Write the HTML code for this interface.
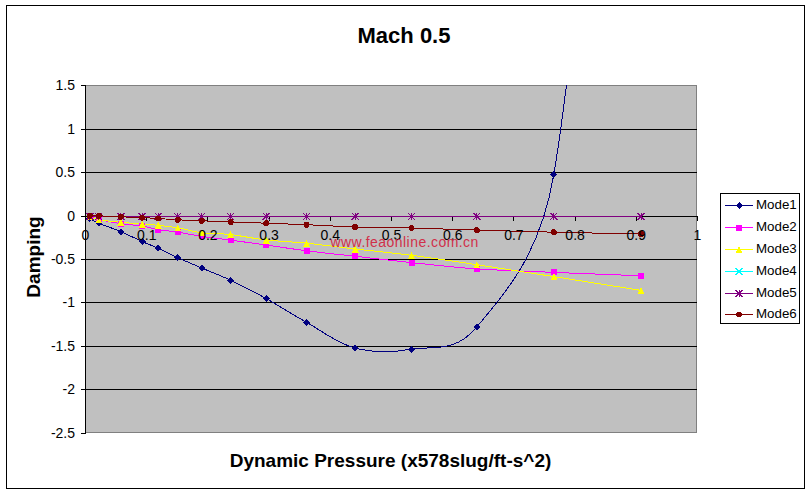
<!DOCTYPE html>
<html><head><meta charset="utf-8"><title>Mach 0.5</title>
<style>html,body{margin:0;padding:0;background:#fff;overflow:hidden}svg{display:block}</style>
</head><body>
<svg width="812" height="495" viewBox="0 0 812 495">
<rect x="0" y="0" width="812" height="495" fill="#fff"/>
<rect x="6.5" y="5.5" width="798" height="483" fill="#fff" stroke="#000" stroke-width="1"/>
<text x="404" y="43" text-anchor="middle" font-family="Liberation Sans, Arial, sans-serif" font-weight="bold" font-size="22" fill="#000">Mach 0.5</text>
<rect x="85.5" y="85.5" width="611" height="347" fill="#C0C0C0" stroke="#808080" stroke-width="1"/>
<line x1="85" y1="129.5" x2="697" y2="129.5" stroke="#000" stroke-width="1"/>
<line x1="85" y1="172.5" x2="697" y2="172.5" stroke="#000" stroke-width="1"/>
<line x1="85" y1="216.5" x2="697" y2="216.5" stroke="#000" stroke-width="1"/>
<line x1="85" y1="259.5" x2="697" y2="259.5" stroke="#000" stroke-width="1"/>
<line x1="85" y1="302.5" x2="697" y2="302.5" stroke="#000" stroke-width="1"/>
<line x1="85" y1="346.5" x2="697" y2="346.5" stroke="#000" stroke-width="1"/>
<line x1="85" y1="389.5" x2="697" y2="389.5" stroke="#000" stroke-width="1"/>
<line x1="85.5" y1="85" x2="85.5" y2="434" stroke="#000" stroke-width="1"/>
<line x1="81" y1="85.5" x2="85" y2="85.5" stroke="#000" stroke-width="1"/>
<text x="75" y="90.3" text-anchor="end" font-family="Liberation Sans, Arial, sans-serif" font-size="14" fill="#000">1.5</text>
<line x1="81" y1="129.5" x2="85" y2="129.5" stroke="#000" stroke-width="1"/>
<text x="75" y="134.3" text-anchor="end" font-family="Liberation Sans, Arial, sans-serif" font-size="14" fill="#000">1</text>
<line x1="81" y1="172.5" x2="85" y2="172.5" stroke="#000" stroke-width="1"/>
<text x="75" y="177.3" text-anchor="end" font-family="Liberation Sans, Arial, sans-serif" font-size="14" fill="#000">0.5</text>
<line x1="81" y1="216.5" x2="85" y2="216.5" stroke="#000" stroke-width="1"/>
<text x="75" y="221.3" text-anchor="end" font-family="Liberation Sans, Arial, sans-serif" font-size="14" fill="#000">0</text>
<line x1="81" y1="259.5" x2="85" y2="259.5" stroke="#000" stroke-width="1"/>
<text x="75" y="264.3" text-anchor="end" font-family="Liberation Sans, Arial, sans-serif" font-size="14" fill="#000">-0.5</text>
<line x1="81" y1="302.5" x2="85" y2="302.5" stroke="#000" stroke-width="1"/>
<text x="75" y="307.3" text-anchor="end" font-family="Liberation Sans, Arial, sans-serif" font-size="14" fill="#000">-1</text>
<line x1="81" y1="346.5" x2="85" y2="346.5" stroke="#000" stroke-width="1"/>
<text x="75" y="351.3" text-anchor="end" font-family="Liberation Sans, Arial, sans-serif" font-size="14" fill="#000">-1.5</text>
<line x1="81" y1="389.5" x2="85" y2="389.5" stroke="#000" stroke-width="1"/>
<text x="75" y="394.3" text-anchor="end" font-family="Liberation Sans, Arial, sans-serif" font-size="14" fill="#000">-2</text>
<line x1="81" y1="433.5" x2="85" y2="433.5" stroke="#000" stroke-width="1"/>
<text x="75" y="438.3" text-anchor="end" font-family="Liberation Sans, Arial, sans-serif" font-size="14" fill="#000">-2.5</text>
<line x1="85.5" y1="216" x2="85.5" y2="221" stroke="#000" stroke-width="1"/>
<line x1="146.5" y1="216" x2="146.5" y2="221" stroke="#000" stroke-width="1"/>
<line x1="207.5" y1="216" x2="207.5" y2="221" stroke="#000" stroke-width="1"/>
<line x1="269.5" y1="216" x2="269.5" y2="221" stroke="#000" stroke-width="1"/>
<line x1="330.5" y1="216" x2="330.5" y2="221" stroke="#000" stroke-width="1"/>
<line x1="391.5" y1="216" x2="391.5" y2="221" stroke="#000" stroke-width="1"/>
<line x1="452.5" y1="216" x2="452.5" y2="221" stroke="#000" stroke-width="1"/>
<line x1="513.5" y1="216" x2="513.5" y2="221" stroke="#000" stroke-width="1"/>
<line x1="575.5" y1="216" x2="575.5" y2="221" stroke="#000" stroke-width="1"/>
<line x1="636.5" y1="216" x2="636.5" y2="221" stroke="#000" stroke-width="1"/>
<line x1="697.5" y1="216" x2="697.5" y2="221" stroke="#000" stroke-width="1"/>
<defs><clipPath id="pc"><rect x="85" y="85" width="612" height="348"/></clipPath></defs>
<g clip-path="url(#pc)" shape-rendering="crispEdges">
<path d="M89.9,218.5 C91.4,219.3 94.1,221.2 98.7,223.2 C103.9,225.4 113.7,228.6 120.9,231.7 C128.1,234.8 135.9,238.7 142.1,241.5 C148.3,244.3 152.3,245.6 158.2,248.3 C164.1,251.0 170.4,254.4 177.7,257.7 C184.9,261.0 192.9,264.2 201.7,268.0 C210.5,271.8 219.9,275.2 230.7,280.3 C241.4,285.4 253.6,291.6 266.2,298.6 C278.8,305.6 291.7,314.1 306.5,322.3 C321.3,330.6 337.7,343.6 355.2,348.1 C372.7,352.6 391.2,352.7 411.5,349.2 C431.8,345.7 455.0,353.7 476.8,327.0 C500.5,297.9 539.7,258.8 553.8,174.7 C581.2,11.9 626.5,-512.5 641.0,-650.0" fill="none" stroke="#000080" stroke-width="1" shape-rendering="crispEdges"/>
<path d="M89.9,216.5 C91.4,217.0 94.2,218.4 98.7,219.5 C103.9,220.7 113.7,222.6 120.9,223.7 C128.1,224.8 135.9,225.0 142.1,226.0 C148.3,227.0 152.3,228.6 158.2,229.6 C164.1,230.6 170.4,231.0 177.7,232.1 C184.9,233.2 192.9,235.1 201.7,236.4 C210.5,237.7 219.9,238.7 230.7,240.1 C241.4,241.5 253.6,243.2 266.2,245.0 C278.8,246.8 291.7,248.9 306.5,250.8 C321.3,252.7 337.7,254.3 355.2,256.3 C372.7,258.3 391.2,260.5 411.5,262.6 C431.8,264.7 453.1,267.3 476.8,268.9 C500.5,270.5 526.4,271.2 553.8,272.4 C581.2,273.5 626.5,275.2 641.0,275.8" fill="none" stroke="#FF00FF" stroke-width="1" shape-rendering="crispEdges"/>
<path d="M89.9,216.5 C91.4,217.1 94.1,219.0 98.7,219.8 C103.9,220.8 113.7,221.5 120.9,222.2 C128.1,222.9 135.9,223.7 142.1,224.2 C148.3,224.7 152.3,224.7 158.2,225.3 C164.1,225.9 170.4,226.6 177.7,227.8 C184.9,229.0 192.9,231.6 201.7,232.7 C210.5,233.8 219.9,233.4 230.7,234.6 C241.4,235.8 253.6,238.6 266.2,240.0 C278.8,241.4 291.7,241.7 306.5,243.2 C321.3,244.7 337.7,247.0 355.2,249.0 C372.7,251.0 391.2,252.7 411.5,255.3 C431.8,257.9 453.1,261.1 476.8,264.7 C500.5,268.2 526.4,272.3 553.8,276.6 C581.2,280.9 626.5,288.1 641.0,290.4" fill="none" stroke="#FFFF00" stroke-width="1" shape-rendering="crispEdges"/>
<path d="M89.9,216.5 C91.4,216.5 94.3,216.5 98.7,216.5 C103.9,216.5 113.7,216.5 120.9,216.5 C128.1,216.5 135.9,216.5 142.1,216.5 C148.3,216.5 152.3,216.5 158.2,216.5 C164.1,216.5 170.4,216.5 177.7,216.5 C184.9,216.5 192.9,216.5 201.7,216.5 C210.5,216.5 219.9,216.5 230.7,216.5 C241.4,216.5 253.6,216.5 266.2,216.5 C278.8,216.5 291.7,216.5 306.5,216.5 C321.3,216.5 337.7,216.5 355.2,216.5 C372.7,216.5 391.2,216.5 411.5,216.5 C431.8,216.5 453.1,216.5 476.8,216.5 C500.5,216.5 526.4,216.5 553.8,216.5 C581.2,216.5 626.5,216.5 641.0,216.5" fill="none" stroke="#00FFFF" stroke-width="1" shape-rendering="crispEdges"/>
<path d="M89.9,216.5 C91.4,216.5 94.3,216.5 98.7,216.5 C103.9,216.5 113.7,216.5 120.9,216.5 C128.1,216.5 135.9,216.5 142.1,216.5 C148.3,216.5 152.3,216.5 158.2,216.5 C164.1,216.5 170.4,216.5 177.7,216.5 C184.9,216.5 192.9,216.5 201.7,216.5 C210.5,216.5 219.9,216.5 230.7,216.5 C241.4,216.5 253.6,216.5 266.2,216.5 C278.8,216.5 291.7,216.5 306.5,216.5 C321.3,216.5 337.7,216.5 355.2,216.5 C372.7,216.5 391.2,216.5 411.5,216.5 C431.8,216.5 453.1,216.5 476.8,216.5 C500.5,216.5 526.4,216.5 553.8,216.5 C581.2,216.5 626.5,216.5 641.0,216.5" fill="none" stroke="#800080" stroke-width="1" shape-rendering="crispEdges"/>
<path d="M89.9,215.8 C91.4,215.8 94.3,215.7 98.7,215.8 C103.9,216.0 113.7,216.5 120.9,216.8 C128.1,217.1 135.9,217.3 142.1,217.6 C148.3,217.9 152.3,218.1 158.2,218.5 C164.1,218.9 170.4,219.4 177.7,219.8 C184.9,220.2 192.9,220.4 201.7,220.8 C210.5,221.2 219.9,221.6 230.7,222.0 C241.4,222.4 253.6,222.8 266.2,223.2 C278.8,223.6 291.7,224.1 306.5,224.7 C321.3,225.3 337.7,226.4 355.2,227.0 C372.7,227.6 391.2,227.5 411.5,228.0 C431.8,228.5 453.1,229.4 476.8,230.1 C500.5,230.8 526.4,231.5 553.8,232.2 C581.2,232.8 626.5,233.7 641.0,234.0" fill="none" stroke="#800000" stroke-width="1" shape-rendering="crispEdges"/>
<path d="M89.9,215.0L93.4,218.5L89.9,222.0L86.4,218.5Z" fill="#000080"/>
<path d="M98.7,219.7L102.2,223.2L98.7,226.7L95.2,223.2Z" fill="#000080"/>
<path d="M120.9,228.2L124.4,231.7L120.9,235.2L117.4,231.7Z" fill="#000080"/>
<path d="M142.1,238.0L145.6,241.5L142.1,245.0L138.6,241.5Z" fill="#000080"/>
<path d="M158.2,244.8L161.7,248.3L158.2,251.8L154.7,248.3Z" fill="#000080"/>
<path d="M177.7,254.2L181.2,257.7L177.7,261.2L174.2,257.7Z" fill="#000080"/>
<path d="M201.7,264.5L205.2,268.0L201.7,271.5L198.2,268.0Z" fill="#000080"/>
<path d="M230.7,276.8L234.2,280.3L230.7,283.8L227.2,280.3Z" fill="#000080"/>
<path d="M266.2,295.1L269.7,298.6L266.2,302.1L262.7,298.6Z" fill="#000080"/>
<path d="M306.5,318.8L310.0,322.3L306.5,325.8L303.0,322.3Z" fill="#000080"/>
<path d="M355.2,344.6L358.7,348.1L355.2,351.6L351.7,348.1Z" fill="#000080"/>
<path d="M411.5,345.7L415.0,349.2L411.5,352.7L408.0,349.2Z" fill="#000080"/>
<path d="M476.8,323.5L480.3,327.0L476.8,330.5L473.3,327.0Z" fill="#000080"/>
<path d="M553.8,171.2L557.3,174.7L553.8,178.2L550.3,174.7Z" fill="#000080"/>
<path d="M641.0,-653.5L644.5,-650.0L641.0,-646.5L637.5,-650.0Z" fill="#000080"/>
<rect x="86.9" y="213.5" width="6.0" height="6.0" fill="#FF00FF"/>
<rect x="95.7" y="216.5" width="6.0" height="6.0" fill="#FF00FF"/>
<rect x="117.9" y="220.7" width="6.0" height="6.0" fill="#FF00FF"/>
<rect x="139.1" y="223.0" width="6.0" height="6.0" fill="#FF00FF"/>
<rect x="155.2" y="226.6" width="6.0" height="6.0" fill="#FF00FF"/>
<rect x="174.7" y="229.1" width="6.0" height="6.0" fill="#FF00FF"/>
<rect x="198.7" y="233.4" width="6.0" height="6.0" fill="#FF00FF"/>
<rect x="227.7" y="237.1" width="6.0" height="6.0" fill="#FF00FF"/>
<rect x="263.2" y="242.0" width="6.0" height="6.0" fill="#FF00FF"/>
<rect x="303.5" y="247.8" width="6.0" height="6.0" fill="#FF00FF"/>
<rect x="352.2" y="253.3" width="6.0" height="6.0" fill="#FF00FF"/>
<rect x="408.5" y="259.6" width="6.0" height="6.0" fill="#FF00FF"/>
<rect x="473.8" y="265.9" width="6.0" height="6.0" fill="#FF00FF"/>
<rect x="550.8" y="269.4" width="6.0" height="6.0" fill="#FF00FF"/>
<rect x="638.0" y="272.8" width="6.0" height="6.0" fill="#FF00FF"/>
<path d="M89.9,213.0L93.4,220.0L86.4,220.0Z" fill="#FFFF00"/>
<path d="M98.7,216.3L102.2,223.3L95.2,223.3Z" fill="#FFFF00"/>
<path d="M120.9,218.7L124.4,225.7L117.4,225.7Z" fill="#FFFF00"/>
<path d="M142.1,220.7L145.6,227.7L138.6,227.7Z" fill="#FFFF00"/>
<path d="M158.2,221.8L161.7,228.8L154.7,228.8Z" fill="#FFFF00"/>
<path d="M177.7,224.3L181.2,231.3L174.2,231.3Z" fill="#FFFF00"/>
<path d="M201.7,229.2L205.2,236.2L198.2,236.2Z" fill="#FFFF00"/>
<path d="M230.7,231.1L234.2,238.1L227.2,238.1Z" fill="#FFFF00"/>
<path d="M266.2,236.5L269.7,243.5L262.7,243.5Z" fill="#FFFF00"/>
<path d="M306.5,239.7L310.0,246.7L303.0,246.7Z" fill="#FFFF00"/>
<path d="M355.2,245.5L358.7,252.5L351.7,252.5Z" fill="#FFFF00"/>
<path d="M411.5,251.8L415.0,258.8L408.0,258.8Z" fill="#FFFF00"/>
<path d="M476.8,261.2L480.3,268.2L473.3,268.2Z" fill="#FFFF00"/>
<path d="M553.8,273.1L557.3,280.1L550.3,280.1Z" fill="#FFFF00"/>
<path d="M641.0,286.9L644.5,293.9L637.5,293.9Z" fill="#FFFF00"/>
<path d="M86.4,213.0L93.4,220.0M86.4,220.0L93.4,213.0" stroke="#00FFFF" stroke-width="1" fill="none"/>
<path d="M95.2,213.0L102.2,220.0M95.2,220.0L102.2,213.0" stroke="#00FFFF" stroke-width="1" fill="none"/>
<path d="M117.4,213.0L124.4,220.0M117.4,220.0L124.4,213.0" stroke="#00FFFF" stroke-width="1" fill="none"/>
<path d="M138.6,213.0L145.6,220.0M138.6,220.0L145.6,213.0" stroke="#00FFFF" stroke-width="1" fill="none"/>
<path d="M154.7,213.0L161.7,220.0M154.7,220.0L161.7,213.0" stroke="#00FFFF" stroke-width="1" fill="none"/>
<path d="M174.2,213.0L181.2,220.0M174.2,220.0L181.2,213.0" stroke="#00FFFF" stroke-width="1" fill="none"/>
<path d="M198.2,213.0L205.2,220.0M198.2,220.0L205.2,213.0" stroke="#00FFFF" stroke-width="1" fill="none"/>
<path d="M227.2,213.0L234.2,220.0M227.2,220.0L234.2,213.0" stroke="#00FFFF" stroke-width="1" fill="none"/>
<path d="M262.7,213.0L269.7,220.0M262.7,220.0L269.7,213.0" stroke="#00FFFF" stroke-width="1" fill="none"/>
<path d="M303.0,213.0L310.0,220.0M303.0,220.0L310.0,213.0" stroke="#00FFFF" stroke-width="1" fill="none"/>
<path d="M351.7,213.0L358.7,220.0M351.7,220.0L358.7,213.0" stroke="#00FFFF" stroke-width="1" fill="none"/>
<path d="M408.0,213.0L415.0,220.0M408.0,220.0L415.0,213.0" stroke="#00FFFF" stroke-width="1" fill="none"/>
<path d="M473.3,213.0L480.3,220.0M473.3,220.0L480.3,213.0" stroke="#00FFFF" stroke-width="1" fill="none"/>
<path d="M550.3,213.0L557.3,220.0M550.3,220.0L557.3,213.0" stroke="#00FFFF" stroke-width="1" fill="none"/>
<path d="M637.5,213.0L644.5,220.0M637.5,220.0L644.5,213.0" stroke="#00FFFF" stroke-width="1" fill="none"/>
<path d="M86.4,213.0L93.4,220.0M86.4,220.0L93.4,213.0M89.9,213.0L89.9,220.0" stroke="#800080" stroke-width="1" fill="none"/>
<path d="M95.2,213.0L102.2,220.0M95.2,220.0L102.2,213.0M98.7,213.0L98.7,220.0" stroke="#800080" stroke-width="1" fill="none"/>
<path d="M117.4,213.0L124.4,220.0M117.4,220.0L124.4,213.0M120.9,213.0L120.9,220.0" stroke="#800080" stroke-width="1" fill="none"/>
<path d="M138.6,213.0L145.6,220.0M138.6,220.0L145.6,213.0M142.1,213.0L142.1,220.0" stroke="#800080" stroke-width="1" fill="none"/>
<path d="M154.7,213.0L161.7,220.0M154.7,220.0L161.7,213.0M158.2,213.0L158.2,220.0" stroke="#800080" stroke-width="1" fill="none"/>
<path d="M174.2,213.0L181.2,220.0M174.2,220.0L181.2,213.0M177.7,213.0L177.7,220.0" stroke="#800080" stroke-width="1" fill="none"/>
<path d="M198.2,213.0L205.2,220.0M198.2,220.0L205.2,213.0M201.7,213.0L201.7,220.0" stroke="#800080" stroke-width="1" fill="none"/>
<path d="M227.2,213.0L234.2,220.0M227.2,220.0L234.2,213.0M230.7,213.0L230.7,220.0" stroke="#800080" stroke-width="1" fill="none"/>
<path d="M262.7,213.0L269.7,220.0M262.7,220.0L269.7,213.0M266.2,213.0L266.2,220.0" stroke="#800080" stroke-width="1" fill="none"/>
<path d="M303.0,213.0L310.0,220.0M303.0,220.0L310.0,213.0M306.5,213.0L306.5,220.0" stroke="#800080" stroke-width="1" fill="none"/>
<path d="M351.7,213.0L358.7,220.0M351.7,220.0L358.7,213.0M355.2,213.0L355.2,220.0" stroke="#800080" stroke-width="1" fill="none"/>
<path d="M408.0,213.0L415.0,220.0M408.0,220.0L415.0,213.0M411.5,213.0L411.5,220.0" stroke="#800080" stroke-width="1" fill="none"/>
<path d="M473.3,213.0L480.3,220.0M473.3,220.0L480.3,213.0M476.8,213.0L476.8,220.0" stroke="#800080" stroke-width="1" fill="none"/>
<path d="M550.3,213.0L557.3,220.0M550.3,220.0L557.3,213.0M553.8,213.0L553.8,220.0" stroke="#800080" stroke-width="1" fill="none"/>
<path d="M637.5,213.0L644.5,220.0M637.5,220.0L644.5,213.0M641.0,213.0L641.0,220.0" stroke="#800080" stroke-width="1" fill="none"/>
<circle cx="89.9" cy="215.8" r="3.0" fill="#800000"/>
<circle cx="98.7" cy="215.8" r="3.0" fill="#800000"/>
<circle cx="120.9" cy="216.8" r="3.0" fill="#800000"/>
<circle cx="142.1" cy="217.6" r="3.0" fill="#800000"/>
<circle cx="158.2" cy="218.5" r="3.0" fill="#800000"/>
<circle cx="177.7" cy="219.8" r="3.0" fill="#800000"/>
<circle cx="201.7" cy="220.8" r="3.0" fill="#800000"/>
<circle cx="230.7" cy="222.0" r="3.0" fill="#800000"/>
<circle cx="266.2" cy="223.2" r="3.0" fill="#800000"/>
<circle cx="306.5" cy="224.7" r="3.0" fill="#800000"/>
<circle cx="355.2" cy="227.0" r="3.0" fill="#800000"/>
<circle cx="411.5" cy="228.0" r="3.0" fill="#800000"/>
<circle cx="476.8" cy="230.1" r="3.0" fill="#800000"/>
<circle cx="553.8" cy="232.2" r="3.0" fill="#800000"/>
<circle cx="641.0" cy="234.0" r="3.0" fill="#800000"/>
</g>
<text x="85.5" y="239.5" text-anchor="middle" font-family="Liberation Sans, Arial, sans-serif" font-size="14" fill="#000">0</text>
<text x="146.7" y="239.5" text-anchor="middle" font-family="Liberation Sans, Arial, sans-serif" font-size="14" fill="#000">0.1</text>
<text x="207.9" y="239.5" text-anchor="middle" font-family="Liberation Sans, Arial, sans-serif" font-size="14" fill="#000">0.2</text>
<text x="269.1" y="239.5" text-anchor="middle" font-family="Liberation Sans, Arial, sans-serif" font-size="14" fill="#000">0.3</text>
<text x="330.3" y="239.5" text-anchor="middle" font-family="Liberation Sans, Arial, sans-serif" font-size="14" fill="#000">0.4</text>
<text x="391.5" y="239.5" text-anchor="middle" font-family="Liberation Sans, Arial, sans-serif" font-size="14" fill="#000">0.5</text>
<text x="452.7" y="239.5" text-anchor="middle" font-family="Liberation Sans, Arial, sans-serif" font-size="14" fill="#000">0.6</text>
<text x="513.9" y="239.5" text-anchor="middle" font-family="Liberation Sans, Arial, sans-serif" font-size="14" fill="#000">0.7</text>
<text x="575.1" y="239.5" text-anchor="middle" font-family="Liberation Sans, Arial, sans-serif" font-size="14" fill="#000">0.8</text>
<text x="636.3" y="239.5" text-anchor="middle" font-family="Liberation Sans, Arial, sans-serif" font-size="14" fill="#000">0.9</text>
<text x="697.5" y="239.5" text-anchor="middle" font-family="Liberation Sans, Arial, sans-serif" font-size="14" fill="#000">1</text>
<text x="330.5" y="246.5" font-family="Liberation Sans, Arial, sans-serif" font-size="14" letter-spacing="0.45" fill="#D0304A">www.feaonline.com.cn</text>
<text x="390.5" y="466.5" text-anchor="middle" font-family="Liberation Sans, Arial, sans-serif" font-weight="bold" font-size="19" fill="#000">Dynamic Pressure (x578slug/ft-s^2)</text>
<text transform="translate(40,257) rotate(-90)" text-anchor="middle" font-family="Liberation Sans, Arial, sans-serif" font-weight="bold" font-size="19" fill="#000">Damping</text>
<rect x="720.5" y="193.5" width="79" height="130" fill="#fff" stroke="#000" stroke-width="1"/>
<line x1="725" y1="205.5" x2="753" y2="205.5" stroke="#000080" stroke-width="1"/>
<g shape-rendering="crispEdges"><path d="M739.0,202.0L742.5,205.5L739.0,209.0L735.5,205.5Z" fill="#000080"/></g>
<text x="756" y="209.0" font-family="Liberation Sans, Arial, sans-serif" font-size="13.33" fill="#000">Mode1</text>
<line x1="725" y1="227.5" x2="753" y2="227.5" stroke="#FF00FF" stroke-width="1"/>
<g shape-rendering="crispEdges"><rect x="736.0" y="224.5" width="6.0" height="6.0" fill="#FF00FF"/></g>
<text x="756" y="231.0" font-family="Liberation Sans, Arial, sans-serif" font-size="13.33" fill="#000">Mode2</text>
<line x1="725" y1="249.5" x2="753" y2="249.5" stroke="#FFFF00" stroke-width="1"/>
<g shape-rendering="crispEdges"><path d="M739.0,246.0L742.5,253.0L735.5,253.0Z" fill="#FFFF00"/></g>
<text x="756" y="253.0" font-family="Liberation Sans, Arial, sans-serif" font-size="13.33" fill="#000">Mode3</text>
<line x1="725" y1="271.5" x2="753" y2="271.5" stroke="#00FFFF" stroke-width="1"/>
<g shape-rendering="crispEdges"><path d="M735.5,268.0L742.5,275.0M735.5,275.0L742.5,268.0" stroke="#00FFFF" stroke-width="1" fill="none"/></g>
<text x="756" y="275.0" font-family="Liberation Sans, Arial, sans-serif" font-size="13.33" fill="#000">Mode4</text>
<line x1="725" y1="293.5" x2="753" y2="293.5" stroke="#800080" stroke-width="1"/>
<g shape-rendering="crispEdges"><path d="M735.5,290.0L742.5,297.0M735.5,297.0L742.5,290.0M739.0,290.0L739.0,297.0" stroke="#800080" stroke-width="1" fill="none"/></g>
<text x="756" y="297.0" font-family="Liberation Sans, Arial, sans-serif" font-size="13.33" fill="#000">Mode5</text>
<line x1="725" y1="314.5" x2="753" y2="314.5" stroke="#800000" stroke-width="1"/>
<g shape-rendering="crispEdges"><circle cx="739.0" cy="314.5" r="3.0" fill="#800000"/></g>
<text x="756" y="318.0" font-family="Liberation Sans, Arial, sans-serif" font-size="13.33" fill="#000">Mode6</text>
</svg>
</body></html>
